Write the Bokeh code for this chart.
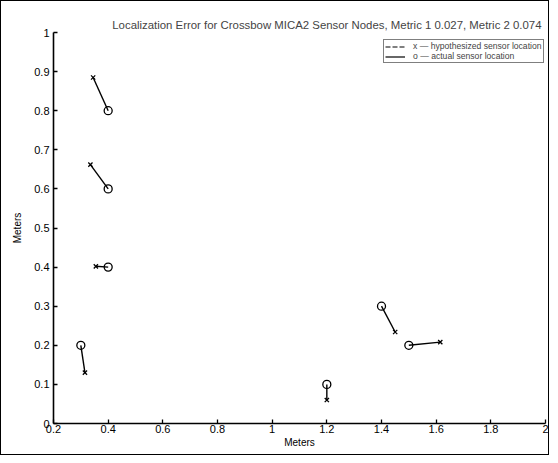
from bokeh.plotting import figure
from bokeh.embed import file_html
from bokeh.resources import INLINE
from bokeh.models import FixedTicker, Range1d, Legend, LegendItem

# Data
actual_x = [0.4, 0.4, 0.4, 0.3, 1.2, 1.4, 1.5]
actual_y = [0.8, 0.6, 0.4, 0.2, 0.1, 0.3, 0.2]
hyp_x = [0.345, 0.335, 0.355, 0.315, 1.2, 1.45, 1.615]
hyp_y = [0.885, 0.662, 0.402, 0.13, 0.06, 0.234, 0.208]

x_ticks = [0.2, 0.4, 0.6, 0.8, 1.0, 1.2, 1.4, 1.6, 1.8, 2.0]
x_tick_labels = ["0.2", "0.4", "0.6", "0.8", "1", "1.2", "1.4", "1.6", "1.8", "2"]
y_ticks = [0, 0.1, 0.2, 0.3, 0.4, 0.5, 0.6, 0.7, 0.8, 0.9, 1.0]
y_tick_labels = ["0", "0.1", "0.2", "0.3", "0.4", "0.5", "0.6", "0.7", "0.8", "0.9", "1"]

title_text = "Localization Error for Crossbow MICA2 Sensor Nodes, Metric 1 0.027, Metric 2 0.074"
legend_labels = ["x \u2014 hypothesized sensor location", "o \u2014 actual sensor location"]

FONT = "Liberation Sans"

p = figure(width=549, height=455, output_backend="svg", toolbar_location=None,
           x_range=Range1d(0.2, 2.0), y_range=Range1d(0, 1.0),
           min_border_left=52, min_border_right=5, min_border_top=31, min_border_bottom=33)
p.styles = {"border": "1px solid black", "box-sizing": "border-box"}

p.title.text = title_text
p.title.align = "right"
p.title.offset = 4
p.title.text_font = FONT
p.title.text_font_size = "11.4px"
p.title.text_font_style = "normal"
p.title.standoff = 4

p.outline_line_color = None
p.xgrid.grid_line_color = None
p.ygrid.grid_line_color = None
p.background_fill_color = "white"
p.border_fill_color = "white"

for ax in (p.xaxis[0], p.yaxis[0]):
    ax.axis_line_color = "black"
    ax.axis_line_width = 1.6
    ax.major_tick_in = 4
    ax.major_tick_out = 0
    ax.major_tick_line_color = "black"
    ax.major_tick_line_width = 1.3
    ax.minor_tick_line_color = None
    ax.major_label_text_font = FONT
    ax.major_label_text_font_size = "11px"
    ax.major_label_text_color = "black"
    ax.axis_label = "Meters"
    ax.axis_label_text_font = FONT
    ax.axis_label_text_font_size = "10px"
    ax.axis_label_text_font_style = "normal"
    ax.axis_label_text_color = "black"

p.xaxis[0].ticker = FixedTicker(ticks=x_ticks)
p.xaxis[0].major_label_overrides = {t: l for t, l in zip(x_ticks, x_tick_labels)}
p.xaxis[0].major_label_standoff = 1
p.xaxis[0].axis_label_standoff = 1
p.yaxis[0].ticker = FixedTicker(ticks=y_ticks)
p.yaxis[0].major_label_standoff = 4
p.yaxis[0].major_label_overrides = {t: l for t, l in zip(y_ticks, y_tick_labels)}
p.yaxis[0].axis_label_standoff = 8

# connecting segments
xs = [[a, h] for a, h in zip(actual_x, hyp_x)]
ys = [[a, h] for a, h in zip(actual_y, hyp_y)]
p.multi_line(xs, ys, line_color="black", line_width=1.4)

p.scatter(hyp_x, hyp_y, marker="x", size=6, line_color="black", line_width=1.3)
p.scatter(actual_x, actual_y, marker="circle", size=8, fill_color=None,
          line_color="black", line_width=1.3)

# legend sample lines (placed outside the visible range, legend only)
l1 = p.line([-5, -4], [-5, -5], line_color="black", line_width=1.2, line_dash="5 2")
l2 = p.line([-5, -4], [-5, -5], line_color="black", line_width=1.2)
legend = Legend(items=[LegendItem(label=legend_labels[0], renderers=[l1]),
                       LegendItem(label=legend_labels[1], renderers=[l2])],
                location=(330, 360))
legend.label_text_font = FONT
legend.label_text_font_size = "8.6px"
legend.label_height = 9
legend.glyph_height = 9
legend.glyph_width = 20
legend.spacing = 0
legend.padding = 1
legend.margin = 0
legend.label_standoff = 8
legend.border_line_color = "black"
legend.border_line_width = 1
legend.background_fill_alpha = 1
p.add_layout(legend)

open("out.html", "w").write(file_html(p, INLINE))
